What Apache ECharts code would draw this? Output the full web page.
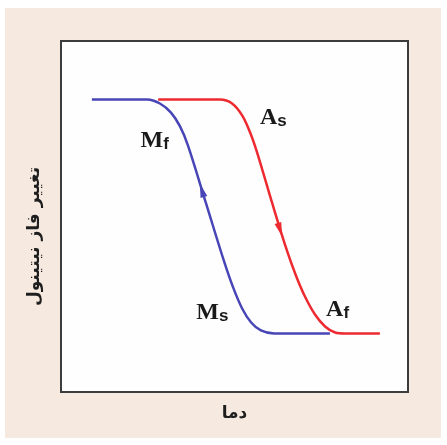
<!DOCTYPE html>
<html>
<head>
<meta charset="utf-8">
<script src="https://cdn.jsdelivr.net/npm/echarts@6/dist/echarts.min.js"></script>
<style>
html,body{margin:0;padding:0;background:#ffffff;width:447px;height:445px;overflow:hidden;}
#chart{position:absolute;left:5px;top:8px;width:436px;height:430px;}
</style>
</head>
<body>
<div id="chart"></div>
<script>
// Temperature (x) and transformed fraction (y, %)
var coolingTemp  = [8.9, 24.8, 28.5, 31.7, 34.3, 36.6, 41.8, 47.0, 49.6, 52.2, 54.8, 57.6, 61.4, 77.5];
var coolingPhase = [100, 100, 98.3, 94.4, 88.5, 80.3, 55.6, 30.8, 19.7, 10.7, 4.7, 1.3, 0, 0];
var heatingTemp  = [28.0, 45.8, 49.3, 52.2, 54.5, 56.5, 60.8, 65.1, 67.7, 70.3, 73.2, 76.1, 79.0, 81.8, 91.9];
var heatingPhase = [100, 100, 98.3, 93.2, 85.9, 77.4, 56.0, 35.5, 24.8, 15.8, 8.1, 3.0, 0.4, 0, 0];
// direction arrows on the curves
var arrowTemp  = [40.6, 63.1];
var arrowPhase = [61.2, 44.4];
var arrowRotate = [17, -163];
// transformation temperature labels
var labelMain = ['M', 'A', 'M', 'A'];
var labelSub  = ['f', 's', 's', 'f'];
var labelTemp  = [27.0, 61.2, 43.6, 79.7];
var labelPhase = [81.0, 90.5, 7.5, 8.5];
var xTitle = 'دما';
var yTitle = 'تغییر فاز نیتینول';

var BLUE = '#4846b6', RED = '#ec2a30';

function pairs(xs, ys){ return xs.map(function(x,i){ return [x, ys[i]]; }); }

var chart = echarts.init(document.getElementById('chart'), null, {renderer:'canvas'});
chart.setOption({
  backgroundColor: '#f5e9e0',
  animation: false,
  grid: {left:56, top:33, width:347, height:351, show:true, backgroundColor:'#fefefe', borderColor:'#3c3c3c', borderWidth:2},
  xAxis: {type:'value', min:0, max:100, axisLine:{show:false}, axisTick:{show:false}, axisLabel:{show:false}, splitLine:{show:false},
    name: xTitle, nameLocation:'middle', nameGap:13,
    nameTextStyle:{fontFamily:'DejaVu Sans', fontWeight:'bold', fontSize:17, color:'#1e1e1e'}},
  yAxis: {type:'value', min:-25, max:125, axisLine:{show:false}, axisTick:{show:false}, axisLabel:{show:false}, splitLine:{show:false},
    name: yTitle, nameLocation:'middle', nameGap:18, nameRotate:90,
    nameTextStyle:{fontFamily:'DejaVu Sans', fontWeight:'bold', fontSize:17, color:'#1e1e1e', padding:[0,40,0,0]}},
  series: [
    {type:'line', data: pairs(coolingTemp, coolingPhase), smooth:0.35, showSymbol:false,
      lineStyle:{color:BLUE, width:2.5}, z:3},
    {type:'line', data: pairs(heatingTemp, heatingPhase), smooth:0.35, showSymbol:false,
      lineStyle:{color:RED, width:2.5}, z:2},
    {type:'scatter', symbol:'triangle', symbolSize:[7,14], itemStyle:{opacity:1},
      data: arrowTemp.map(function(x,i){ return {value:[x, arrowPhase[i]], symbolRotate: arrowRotate[i], itemStyle:{color: i===0?BLUE:RED, opacity:1}}; }), z:4},
    {type:'scatter', symbolSize:0, silent:true, itemStyle:{opacity:1},
      data: labelMain.map(function(m,i){ return {value:[labelTemp[i], labelPhase[i]], name: m}; }),
      label:{show:true, position:'inside', color:'#1a1a1a', opacity:1, textBorderWidth:0,
        formatter: function(p){ return '{m|' + labelMain[p.dataIndex] + '}{s|' + labelSub[p.dataIndex] + '}'; },
        rich:{
          m:{fontFamily:'Liberation Serif', fontWeight:'bold', fontSize:24, color:'#1a1a1a', textBorderWidth:0, padding:[0,0,7,0]},
          s:{fontFamily:'Liberation Sans', fontWeight:'bold', fontSize:17, color:'#1a1a1a', textBorderWidth:0}
        }}, z:5}
  ]
});
</script>
</body>
</html>
